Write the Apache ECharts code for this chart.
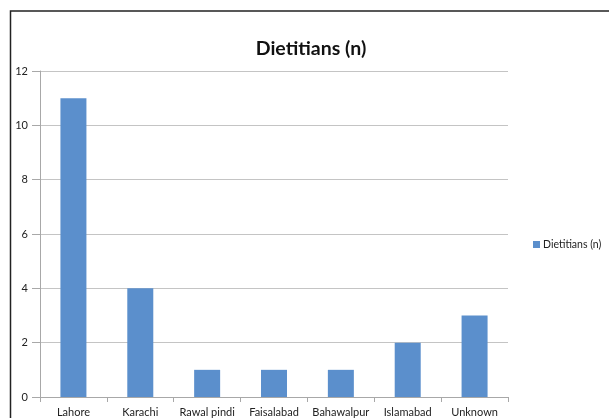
<!DOCTYPE html>
<html>
<head>
<meta charset="utf-8">
<script src="https://cdn.jsdelivr.net/npm/echarts@6/dist/echarts.min.js"></script>
<style>html,body{margin:0;padding:0;background:#fff}#c{width:609px;height:418px}</style>
</head>
<body>
<div id="c"></div>
<script>
var categories = ['Lahore', 'Karachi', 'Rawal pindi', 'Faisalabad', 'Bahawalpur', 'Islamabad', 'Unknown'];
var dietitians = [11, 4, 1, 1, 1, 2, 3];
var seriesName = 'Dietitians (n)';
var titleText = 'Dietitians (n)';

var chart = echarts.init(document.getElementById('c'), null, {renderer: 'canvas'});
var font = 'Lato';
chart.setOption({
  animation: false,
  backgroundColor: '#fff',
  graphic: [{
    type: 'rect',
    shape: {x: 10.5, y: 11, width: 640, height: 440},
    style: {fill: 'none', stroke: '#222', lineWidth: 1.5},
    silent: true
  }],
  title: {
    text: titleText,
    left: 306, top: 34, textAlign: 'center',
    textStyle: {fontFamily: font, fontWeight: 'bold', fontSize: 19.5, color: '#111'}
  },
  legend: {
    left: 528, top: 234,
    itemWidth: 7, itemHeight: 7, itemGap: 4,
    icon: 'rect',
    textStyle: {fontFamily: font, fontSize: 10.5, color: '#222', padding: [0, 0, 0, -2]},
    data: [seriesName]
  },
  grid: {left: 40, right: 101, top: 71, bottom: 21, containLabel: false},
  xAxis: {
    type: 'category',
    data: categories,
    axisLine: {lineStyle: {color: '#a8a8a8', width: 1}},
    axisTick: {show: true, length: 5, alignWithLabel: false, lineStyle: {color: '#a8a8a8'}},
    axisLabel: {fontFamily: font, fontSize: 11, color: '#222', margin: 10, interval: 0}
  },
  yAxis: {
    type: 'value',
    min: 0, max: 12, interval: 2,
    axisLine: {show: true, lineStyle: {color: '#a8a8a8', width: 1}},
    axisTick: {show: true, length: 8, lineStyle: {color: '#a8a8a8'}},
    axisLabel: {fontFamily: font, fontSize: 11, color: '#222', margin: 12},
    splitLine: {lineStyle: {color: '#c4c4c4', width: 1}}
  },
  series: [{
    name: seriesName,
    type: 'bar',
    data: dietitians,
    barWidth: 26,
    itemStyle: {color: '#5B8FCC'}
  }]
});
</script>
</body>
</html>
